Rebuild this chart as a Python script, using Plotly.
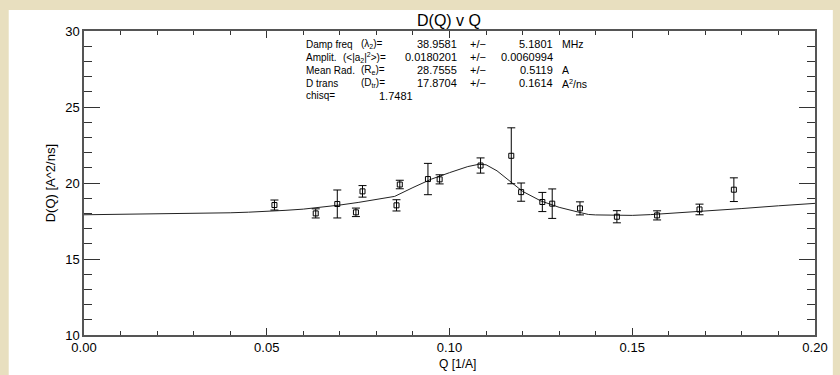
import plotly.graph_objects as go

# ---- data ----
q_pts = [0.0521, 0.0634, 0.0693, 0.0744, 0.0762, 0.0855, 0.0864, 0.0941, 0.0973,
         0.1085, 0.1169, 0.1196, 0.1254, 0.1281, 0.1357, 0.1458, 0.1568, 0.1684, 0.1778]
d_pts = [18.55, 18.00, 18.62, 18.07, 19.45, 18.53, 19.90, 20.26, 20.24,
         21.15, 21.79, 19.40, 18.75, 18.64, 18.33, 17.78, 17.87, 18.26, 19.56]
d_err = [0.33, 0.30, 0.92, 0.28, 0.38, 0.37, 0.28, 1.03, 0.30,
         0.50, 1.84, 0.60, 0.63, 0.97, 0.43, 0.40, 0.30, 0.35, 0.78]

q_fit = [0.000, 0.010, 0.020, 0.030, 0.040, 0.045, 0.050, 0.055, 0.060, 0.065,
         0.070, 0.075, 0.080, 0.085, 0.090, 0.095, 0.100, 0.105, 0.108, 0.110,
         0.113, 0.116, 0.120, 0.125, 0.130, 0.135, 0.138, 0.140, 0.145, 0.150,
         0.155, 0.160, 0.170, 0.180, 0.190, 0.200]
d_fit = [17.91, 17.93, 17.95, 17.98, 18.04, 18.08, 18.13, 18.20, 18.28, 18.40,
         18.55, 18.72, 18.90, 19.12, 19.70, 20.25, 20.68, 21.08, 21.23, 21.20,
         20.80, 20.20, 19.45, 18.82, 18.40, 18.10, 17.93, 17.90, 17.88, 17.87,
         17.92, 17.99, 18.15, 18.32, 18.50, 18.66]

x_ticks = [0.00, 0.05, 0.10, 0.15, 0.20]
y_ticks = [10, 15, 20, 25, 30]

title_text = "D(Q) v Q"
x_title = "Q [1/A]"
y_title = "D(Q) [A^2/ns]"

fit_names = ["Damp freq", "Amplit.", "Mean Rad.", "D trans", "chisq="]
fit_syms = ["(λ<sub>2</sub>)=", "(&lt;|a<sub>2</sub>|<sup>2</sup>&gt;)=",
            "(R<sub>e</sub>)=", "(D<sub>tr</sub>)=", ""]
fit_vals = ["38.9581", "0.0180201", "28.7555", "17.8704", "1.7481"]
fit_pm = ["+/−", "+/−", "+/−", "+/−", ""]
fit_errs = ["5.1801", "0.0060994", "0.5119", "0.1614", ""]
fit_units = ["MHz", "", "A", "A<sup>2</sup>/ns", ""]

# ---- layout geometry (pixels) ----
W, H = 840, 375
L, R, T, B = 84, 18, 31, 40
PW, PH = W - L - R, H - T - B


def px(x):
    return (x - L) / PW


def py(y):
    return (H - B - y) / PH


FONT = "Liberation Sans, Arial, sans-serif"

fig = go.Figure()
fig.add_trace(go.Scatter(x=q_fit, y=d_fit, mode="lines",
                         line=dict(color="#222222", width=1), hoverinfo="skip"))
fig.add_trace(go.Scatter(x=q_pts, y=d_pts, mode="markers",
                         marker=dict(symbol="square-open", size=5,
                                     color="black", line=dict(width=1, color="black")),
                         error_y=dict(type="data", array=d_err, color="black",
                                      thickness=1, width=4)))


def ann(text, x, y, anchor="left", size=10.5, angle=0):
    return dict(text=text, x=px(x), y=py(y), xref="paper", yref="paper",
                showarrow=False, xanchor=anchor, yanchor="middle", textangle=angle,
                font=dict(size=size, color="black", family=FONT))


annotations = [
    ann(title_text, 452, 20, "center", 16),
    ann(x_title, 461, 364, "center", 12),
    ann(y_title, 50, 183, "center", 13, -90),
]

row_y = [44, 57, 70, 83, 96]
sym_x = [362, 343, 362, 362, 0]
for r in range(5):
    yy = row_y[r]
    annotations.append(ann(fit_names[r], 306, yy, "left", 10))
    if fit_syms[r]:
        annotations.append(ann(fit_syms[r], sym_x[r], yy, "left", 10))
    if r < 4:
        annotations.append(ann(fit_vals[r], 463, yy, "right", 11))
        annotations.append(ann(fit_pm[r], 472, yy, "left", 11))
        annotations.append(ann(fit_errs[r], 560, yy, "right", 11))
        if fit_units[r]:
            annotations.append(ann(fit_units[r], 565, yy, "left", 10.5))
    else:
        annotations.append(ann(fit_vals[r], 380, yy, "left", 11))

fig.update_layout(
    width=W, height=H,
    margin=dict(l=L, r=R, t=T, b=B),
    paper_bgcolor="#e8dfbf",
    plot_bgcolor="white",
    showlegend=False,
    annotations=annotations,
    shapes=[dict(type="rect", xref="paper", yref="paper",
                 x0=px(8), x1=px(840), y0=py(375), y1=py(10),
                 fillcolor="white", line=dict(width=0), layer="below")],
    xaxis=dict(range=[0, 0.2], tickvals=x_ticks, tickformat=".2f",
               ticks="inside", ticklen=7, tickwidth=1, tickcolor="#333",
               minor=dict(dtick=0.01, ticks="inside", ticklen=4, tickcolor="#333"),
               showline=True, linecolor="#555", linewidth=1.5, mirror="ticks",
               showgrid=False, zeroline=False,
               tickfont=dict(size=13, color="black", family=FONT)),
    yaxis=dict(range=[10, 30], tickvals=y_ticks, tickformat="d",
               ticks="inside", ticklen=16, tickwidth=1, tickcolor="#333",
               minor=dict(dtick=1, ticks="inside", ticklen=8, tickcolor="#333"),
               showline=True, linecolor="#555", linewidth=1.5, mirror="ticks",
               showgrid=False, zeroline=False,
               tickfont=dict(size=13, color="black", family=FONT)),
)

fig.write_html("out.html",
               config={"displayModeBar": False},
               post_script="document.body.style.margin='0';"
                           "document.body.style.overflow='hidden';")
